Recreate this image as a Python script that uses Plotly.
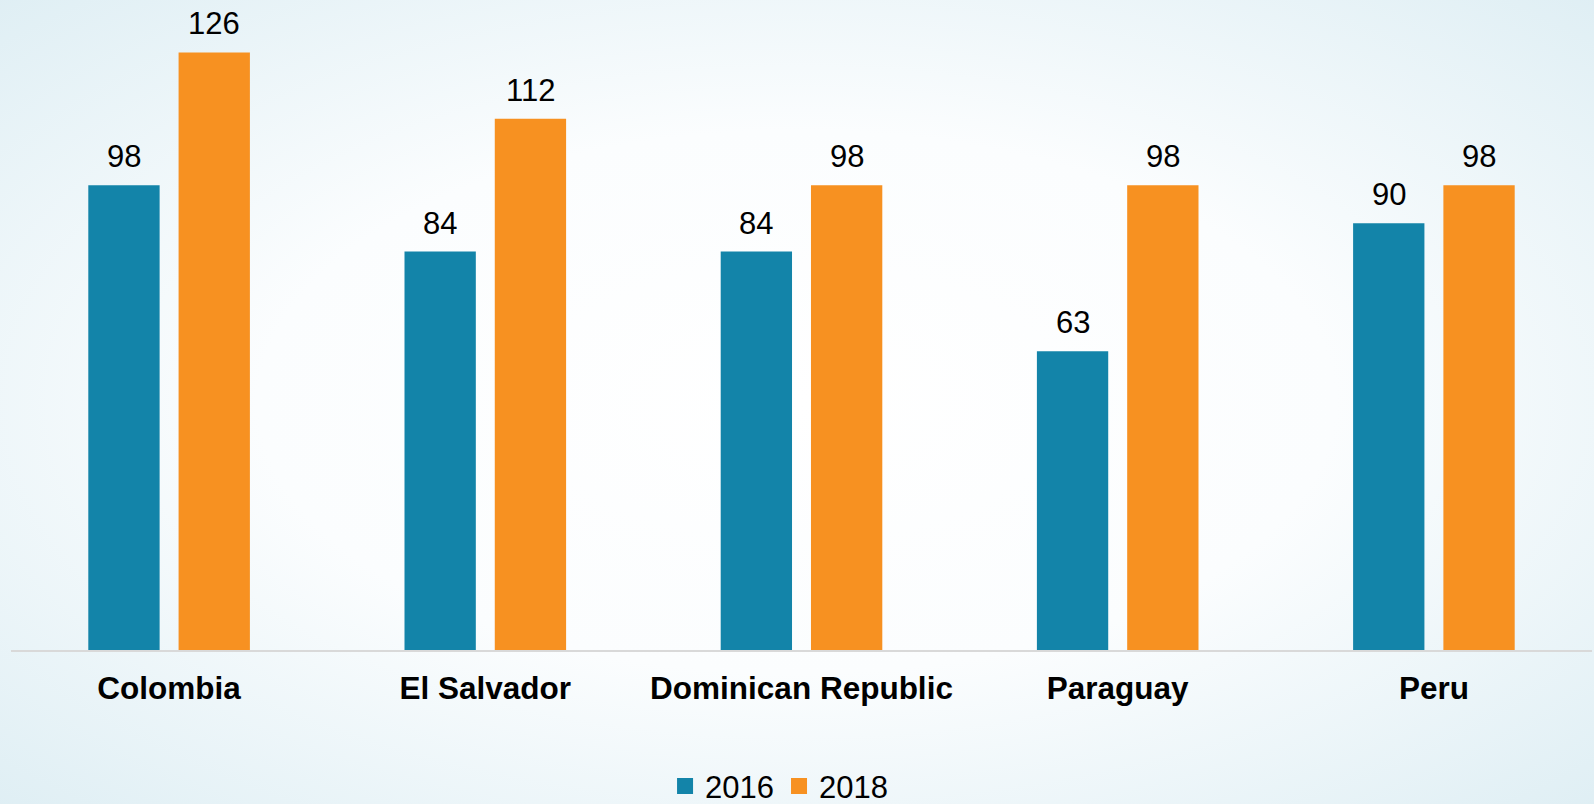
import plotly.graph_objects as go
import urllib.parse

categories = ["Colombia", "El Salvador", "Dominican Republic", "Paraguay", "Peru"]
values_2016 = [98, 84, 84, 63, 90]
values_2018 = [126, 112, 98, 98, 98]
series_names = ["2016", "2018"]

BLUE = "#1384A9"
ORANGE = "#F79121"
FONT = "Arial, Liberation Sans, sans-serif"

W, H = 1594, 804
ML, MR, MT, MB = 11, 2, 0, 154
pw, ph = W - ML - MR, H - MT - MB
BARGAP = 0.429
BARGROUPGAP = 0.21
YMAX = 137.05

fig = go.Figure()
series = [(series_names[0], values_2016, BLUE), (series_names[1], values_2018, ORANGE)]
for name, vals, col in series:
    fig.add_trace(go.Bar(
        x=categories, y=vals, name=name, showlegend=False,
        marker=dict(color=col, line=dict(width=0)),
        cliponaxis=False,
    ))
# legend entries (square swatches)
for name, vals, col in series:
    fig.add_trace(go.Scatter(
        x=[None], y=[None], name=name, mode="markers",
        marker=dict(symbol="square", size=16, color=col),
        showlegend=True, hoverinfo="skip",
    ))

# value labels above bars
cat_w = pw / len(categories)
slot = cat_w * (1 - BARGAP) / 2
annotations = []
for i, (name, vals, col) in enumerate(series):
    xs = (i - 0.5) * slot
    for c, v in zip(categories, vals):
        annotations.append(dict(
            x=c, y=v, xref="x", yref="y", text=str(v), showarrow=False,
            xanchor="center", yanchor="bottom", xshift=xs, yshift=9,
            font=dict(family=FONT, size=31, color="#000000"),
        ))

svg = (
    '<svg xmlns="http://www.w3.org/2000/svg" width="1594" height="804" viewBox="0 0 1594 804" preserveAspectRatio="none">'
    '<defs><radialGradient id="g" cx="50%" cy="50%" r="75%">'
    '<stop offset="0%" stop-color="#ffffff"/>'
    '<stop offset="45%" stop-color="#fbfdfe"/>'
    '<stop offset="100%" stop-color="#dcedf3"/>'
    '</radialGradient></defs>'
    '<rect width="1594" height="804" fill="url(#g)"/></svg>'
)
src = "data:image/svg+xml;charset=utf-8," + urllib.parse.quote(svg)

fig.update_layout(
    width=W, height=H,
    margin=dict(l=ML, r=MR, t=MT, b=MB, pad=0, autoexpand=False),
    paper_bgcolor="#eef6f9",
    plot_bgcolor="rgba(0,0,0,0)",
    barmode="group",
    bargap=BARGAP,
    bargroupgap=BARGROUPGAP,
    font=dict(family=FONT, color="#000000"),
    showlegend=True,
    legend=dict(
        orientation="h", x=0.4858, xanchor="center", y=0.0218, yanchor="middle",
        yref="container", font=dict(family=FONT, size=31, color="#000000"),
        bgcolor="rgba(0,0,0,0)", itemwidth=30, traceorder="normal",
    ),
    xaxis=dict(
        showgrid=False, showline=True, linecolor="#D9D9D9", linewidth=2,
        ticks="outside", ticklen=9, tickcolor="rgba(0,0,0,0)",
        tickfont=dict(family=FONT, size=31.5, color="#000000", weight="bold"),
        zeroline=False,
    ),
    yaxis=dict(
        range=[0, YMAX], visible=False, showgrid=False, zeroline=False,
    ),
    annotations=annotations,
    images=[dict(
        source=src, xref="paper", yref="paper",
        x=-ML / pw, y=1 + MT / ph, sizex=W / pw, sizey=H / ph,
        xanchor="left", yanchor="top", sizing="stretch", layer="below",
    )],
)

fig.write_html(
    "out.html",
    config={"displayModeBar": False},
    post_script="document.body.style.margin='0';document.body.style.overflow='hidden';",
)
